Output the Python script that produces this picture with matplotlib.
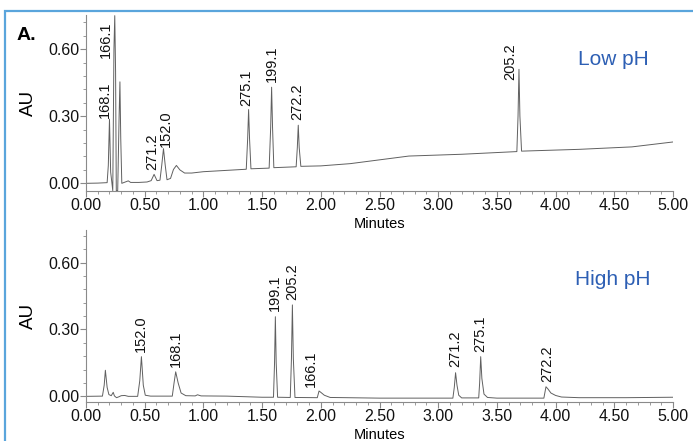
import numpy as np
import matplotlib
matplotlib.use("Agg")
from matplotlib import pyplot as plt
from matplotlib.patches import Rectangle
from matplotlib.ticker import MultipleLocator, FormatStrFormatter

plt.rcParams['font.family'] = ['Liberation Sans', 'DejaVu Sans']

# Low pH trace (minutes, AU)
low_t = [0.00, 0.10, 0.18, 0.19, 0.20, 0.21, 0.22, 0.228, 0.238, 0.245, 0.252, 0.258,
         0.27, 0.282, 0.289, 0.296, 0.305, 0.32, 0.345, 0.36, 0.38, 0.45, 0.52, 0.555,
         0.58, 0.605, 0.63, 0.645, 0.66, 0.675, 0.69, 0.72, 0.745, 0.77, 0.80, 0.84,
         0.90, 1.00, 1.20, 1.365, 1.377, 1.385, 1.393, 1.405, 1.56, 1.573, 1.581, 1.589,
         1.60, 1.79, 1.80, 1.808, 1.816, 1.83, 2.00, 2.25, 2.75, 3.20, 3.67, 3.680, 3.688,
         3.696, 3.71, 4.20, 4.65, 5.00]
low_au = [0.000, 0.001, 0.003, 0.08, 0.287, 0.05, 0.005, -0.033, 0.60, 0.75, 0.50, -0.033,
          -0.033, 0.30, 0.454, 0.20, 0.000, 0.003, 0.008, 0.011, 0.004, 0.004, 0.006, 0.012,
          0.040, 0.012, 0.014, 0.08, 0.155, 0.08, 0.016, 0.022, 0.062, 0.080, 0.060, 0.046,
          0.046, 0.052, 0.058, 0.063, 0.20, 0.330, 0.20, 0.065, 0.068, 0.25, 0.430, 0.25,
          0.070, 0.074, 0.16, 0.260, 0.16, 0.076, 0.078, 0.088, 0.122, 0.130, 0.142, 0.30,
          0.510, 0.30, 0.144, 0.152, 0.163, 0.185]

# High pH trace (minutes, AU)
high_t = [0.00, 0.14, 0.155, 0.165, 0.18, 0.195, 0.215, 0.232, 0.242, 0.26, 0.28, 0.30,
          0.33, 0.36, 0.44, 0.458, 0.472, 0.488, 0.505, 0.55, 0.735, 0.75, 0.764, 0.785,
          0.81, 0.85, 0.93, 0.95, 0.98, 1.20, 1.50, 1.597, 1.606, 1.613, 1.620, 1.632,
          1.74, 1.750, 1.758, 1.766, 1.78, 1.97, 1.985, 2.00, 2.03, 2.08, 2.50, 3.125,
          3.137, 3.148, 3.16, 3.175, 3.20, 3.345, 3.353, 3.362, 3.372, 3.39, 3.42, 3.50,
          3.90, 3.918, 3.935, 3.96, 4.00, 4.05, 4.20, 4.60, 5.00]
high_au = [0.000, 0.001, 0.05, 0.117, 0.04, 0.008, 0.003, 0.018, 0.002, -0.006, -0.002,
           0.003, 0.004, 0.000, 0.000, 0.07, 0.178, 0.05, 0.005, 0.001, 0.001, 0.06, 0.110,
           0.06, 0.015, 0.003, 0.002, 0.007, 0.002, 0.001, -0.004, -0.004, 0.15, 0.357,
           0.15, -0.004, -0.005, 0.17, 0.410, 0.17, -0.005, -0.006, 0.024, 0.018, 0.005,
           -0.005, -0.008, -0.008, 0.04, 0.106, 0.05, 0.005, -0.007, -0.007, 0.06, 0.178,
           0.08, 0.010, -0.005, -0.008, -0.008, 0.043, 0.033, 0.015, 0.004, -0.003,
           -0.006, -0.006, -0.004]

# peak labels: (label, minutes, AU of apex)
low_peaks = ["168.1", "166.1", "271.2", "152.0", "275.1", "199.1", "272.2", "205.2"]
low_peak_t = [0.20, 0.245, 0.58, 0.66, 1.385, 1.581, 1.808, 3.688]
low_peak_au = [0.287, 0.75, 0.040, 0.155, 0.330, 0.430, 0.260, 0.510]

high_peaks = ["152.0", "168.1", "199.1", "205.2", "166.1", "271.2", "275.1", "272.2"]
high_peak_t = [0.472, 0.764, 1.613, 1.758, 1.985, 3.148, 3.362, 3.918]
high_peak_au = [0.178, 0.110, 0.357, 0.410, 0.024, 0.106, 0.178, 0.043]

# label offsets from the apex, in pixels (dx, dy)
low_off = [(-5, 1), (-9, -42), (-2, 4), (2, 2), (-2, 4), (0, 5), (-1, 5), (-9, -11)]
high_off = [(-1, 5), (0, 5), (0, 6), (0, 5), (-8, 4), (0, 6), (0, 5), (1, 5)]

x_ticks = [0.0, 0.5, 1.0, 1.5, 2.0, 2.5, 3.0, 3.5, 4.0, 4.5, 5.0]
y_ticks = [0.00, 0.30, 0.60]

W, H = 693, 441
fig = plt.figure(figsize=(W / 100, H / 100), dpi=100)

trace_col = '#606060'
axis_col = '#8a8a8a'
blue = '#2d5fb4'


def draw(ax, t, au, names, pt, pau, offs, tag, tag_pos, ylim):
    ax.plot(t, au, color=trace_col, lw=0.7)
    for name, x, y, (dx, dy) in zip(names, pt, pau, offs):
        ax.annotate(name, (x, y), xytext=(dx * 0.72, dy * 0.72), textcoords='offset points',
                    rotation=90, ha='center', va='bottom', fontsize=10.5, color='#111111')
    ax.set_xlim(0, 5)
    ax.set_ylim(*ylim)
    ax.set_xticks(x_ticks)
    ax.set_yticks(y_ticks)
    ax.xaxis.set_minor_locator(MultipleLocator(0.1))
    ax.yaxis.set_minor_locator(MultipleLocator(0.06))
    ax.xaxis.set_major_formatter(FormatStrFormatter('%.2f'))
    ax.yaxis.set_major_formatter(FormatStrFormatter('%.2f'))
    for s in ['top', 'right']:
        ax.spines[s].set_visible(False)
    for s in ['left', 'bottom']:
        ax.spines[s].set_color(axis_col)
        ax.spines[s].set_linewidth(0.8)
    ax.tick_params(which='major', direction='out', length=4, width=0.8, color=axis_col,
                   labelsize=11.5, pad=1, labelcolor='#111111')
    ax.tick_params(which='minor', direction='out', length=2.2, width=0.6, color=axis_col)
    ax.set_xlabel('Minutes', fontsize=10.5, labelpad=3)
    ax.set_ylabel('AU', fontsize=13.5)
    ax.yaxis.set_label_coords(-0.083, 0.5)
    ax.text(tag_pos[0], tag_pos[1], tag, transform=ax.transAxes, fontsize=15, color=blue,
            ha='center', va='center')


ax1 = fig.add_axes([86 / W, 1 - 190.7 / H, 587 / W, 175.7 / H])
draw(ax1, low_t, low_au, low_peaks, low_peak_t, low_peak_au, low_off, 'Low pH',
     (0.899, 0.744), (-0.033, 0.753))

ax2 = fig.add_axes([86 / W, 1 - 401.7 / H, 587 / W, 171.7 / H])
draw(ax2, high_t, high_au, high_peaks, high_peak_t, high_peak_au, high_off, 'High pH',
     (0.898, 0.713), (-0.024, 0.746))

fig.text(17 / W, 1 - 35 / H, 'A.', fontsize=14, fontweight='bold', ha='left', va='center')

# light blue frame around the panel
fig.add_artist(Rectangle((5 / W, -0.5), 2, 1.5 - 10.5 / H, transform=fig.transFigure,
                         fill=False, edgecolor='#5aa5dc', lw=1.6))

fig.savefig('out.png', dpi=100)
